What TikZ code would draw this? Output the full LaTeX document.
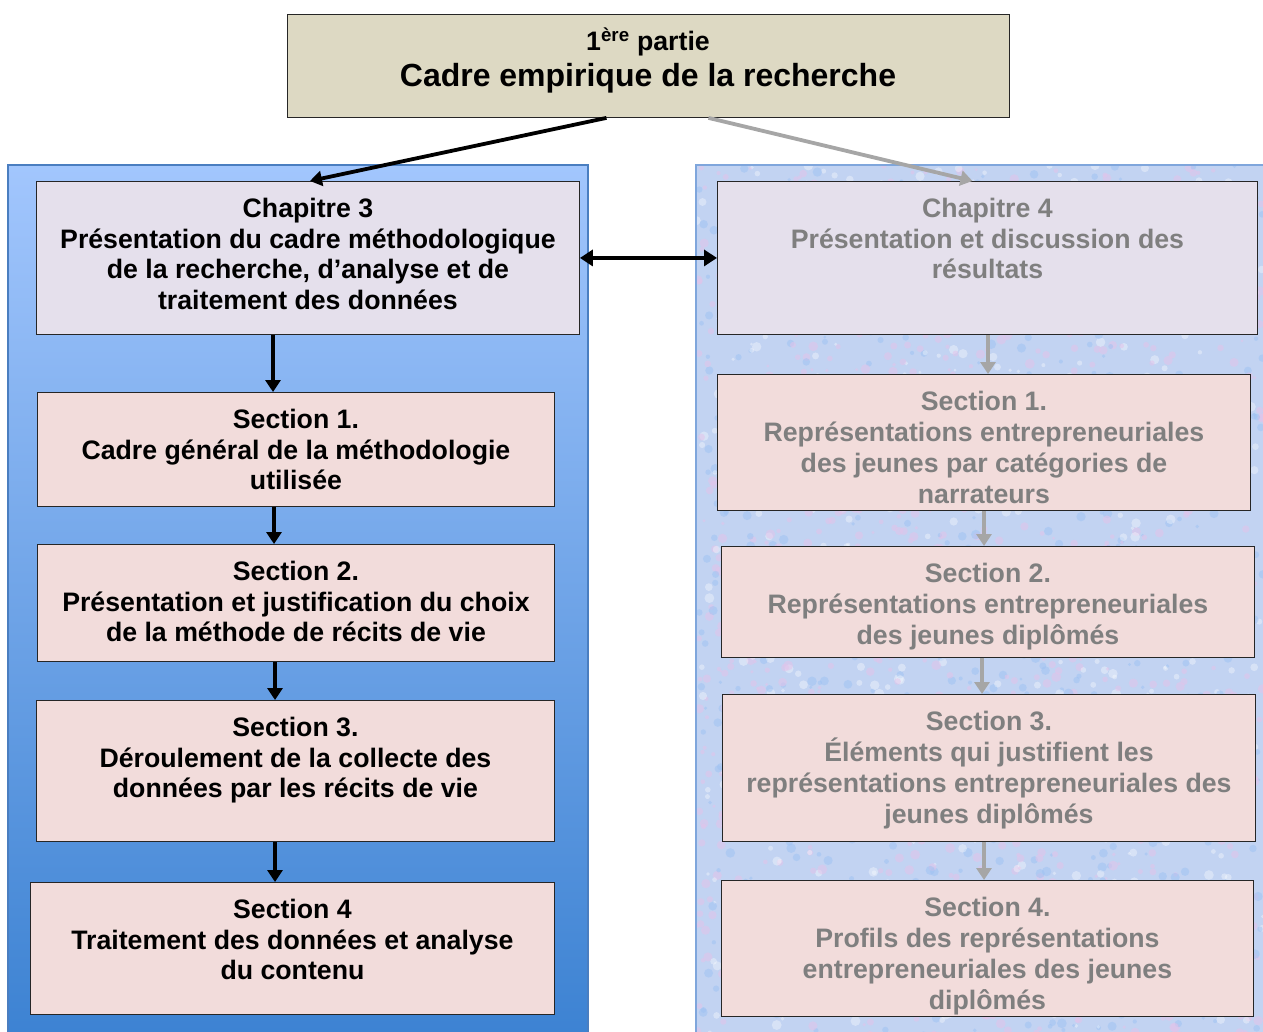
\documentclass[tikz,border=0pt]{standalone}
\usepackage{fontspec}
\setmainfont{Liberation Sans}
\usetikzlibrary{arrows.meta}
\definecolor{topfill}{HTML}{DDD9C3}
\definecolor{chfill}{HTML}{E5E0EC}
\definecolor{secfill}{HTML}{F2DCDB}
\definecolor{lptop}{HTML}{A2C6FD}
\definecolor{lpbot}{HTML}{3C82D2}
\definecolor{lpborder}{HTML}{4A7EC0}
\definecolor{rpfill}{HTML}{C2D3F2}
\definecolor{rpborder}{HTML}{7FA6DC}
\definecolor{greytext}{HTML}{7F7F7F}
\definecolor{greyarrow}{HTML}{A6A6A6}
\definecolor{speckpink}{HTML}{E2C4EA}
\definecolor{speckblue}{HTML}{9EC2F2}
\newcommand\myboxfont{\fontsize{26.7}{30.7}\selectfont\bfseries\lineskiplimit=-50pt\relax}
\tikzset{
  boxstyle/.style={draw=black!85, line width=0.9pt, inner sep=0pt, anchor=north west},
  txtstyle/.style={inner sep=0pt, anchor=north, align=center, font=\myboxfont},
  greytxt/.style={txtstyle, text=greytext},
  blackarrow/.style={line width=3.8pt, -{Triangle[length=12pt,width=15pt]}},
  greyarr/.style={line width=3.8pt, draw=greyarrow, -{Triangle[length=12pt,width=15pt]}},
  vblack/.style={line width=3.5pt, -{Triangle[length=12pt,width=15pt]}},
  vgrey/.style={line width=3.5pt, draw=greyarrow, -{Triangle[length=12pt,width=15pt]}},
}
\begin{document}
\begin{tikzpicture}[x=1pt,y=-1pt]
\useasboundingbox (0,0) rectangle (1263,1032);
\fill[white] (0,0) rectangle (1263,1032);
% panels
\shade[top color=lptop, bottom color=lpbot] (8,165) rectangle (588,1040);
\draw[lpborder, line width=1.5pt] (8,1040) -- (8,165) -- (588,165) -- (588,1040);
\fill[rpfill] (696,165) rectangle (1263,1040);
\begin{scope}
\clip (696,165) rectangle (1263,1040);
\pgfmathsetseed{11}
\foreach \i in {1,...,2600}{
  \pgfmathsetmacro{\px}{696+567*rnd}
  \pgfmathsetmacro{\py}{165+870*rnd}
  \pgfmathsetmacro{\pr}{1.5+3.5*rnd}
  \pgfmathsetmacro{\pc}{rnd}
  \ifdim\pc pt<0.45pt
    \fill[speckpink, opacity=0.55] (\px,\py) circle[radius=\pr pt];
  \else\ifdim\pc pt<0.75pt
    \fill[speckblue, opacity=0.5] (\px,\py) circle[radius=\pr pt];
  \else
    \fill[white, opacity=0.35] (\px,\py) circle[radius=\pr pt];
  \fi\fi
}
\end{scope}
\draw[rpborder, line width=1.5pt] (696,1040) -- (696,165) -- (1263,165);

% top box
\node[boxstyle, fill=topfill, minimum width=722pt, minimum height=103pt] (top) at (287,14) {};
\node[inner sep=0pt, anchor=base, font=\fontsize{26.7}{31}\selectfont\bfseries] (toptxt1) at (648,50.5) {1\textsuperscript{ère} partie};
\node[inner sep=0pt, anchor=base, font=\fontsize{32}{37}\selectfont\bfseries] (toptxt2) at (648,86.5) {Cadre empirique de la recherche};

% left column
\node[boxstyle, fill=chfill, minimum width=543pt, minimum height=153pt] (ch3) at (36,181) {};
\node[boxstyle, fill=secfill, minimum width=517pt, minimum height=114pt] (s1l) at (37,392) {};
\node[boxstyle, fill=secfill, minimum width=517pt, minimum height=117pt] (s2l) at (37,544) {};
\node[boxstyle, fill=secfill, minimum width=518pt, minimum height=141pt] (s3l) at (36,700) {};
\node[boxstyle, fill=secfill, minimum width=524pt, minimum height=132pt] (s4l) at (30,882) {};

\node[txtstyle] (ch3t) at ([yshift=-14.8pt]ch3.north) {\strut Chapitre 3\\Présentation du cadre méthodologique\\de la recherche, d’analyse et de\\traitement des données};
\node[txtstyle] (s1lt) at ([yshift=-14.8pt]s1l.north) {\strut Section 1.\\Cadre général de la méthodologie\\utilisée};
\node[txtstyle] (s2lt) at ([yshift=-14.8pt]s2l.north) {\strut Section 2.\\Présentation et justification du choix\\de la méthode de récits de vie};
\node[txtstyle] (s3lt) at ([yshift=-14.8pt]s3l.north) {\strut Section 3.\\Déroulement de la collecte des\\données par les récits de vie};
\node[txtstyle] (s4lt) at ([yshift=-14.8pt]s4l.north) {\strut Section 4\\Traitement des données et analyse\\du contenu};

% right column
\node[boxstyle, fill=chfill, minimum width=540pt, minimum height=153pt] (ch4) at (717,181) {};
\node[boxstyle, fill=secfill, minimum width=533pt, minimum height=136pt] (s1r) at (717,374) {};
\node[boxstyle, fill=secfill, minimum width=533pt, minimum height=111pt] (s2r) at (721,546) {};
\node[boxstyle, fill=secfill, minimum width=533pt, minimum height=147pt] (s3r) at (722,694) {};
\node[boxstyle, fill=secfill, minimum width=532pt, minimum height=136pt] (s4r) at (721,880) {};

\node[greytxt] (ch4t) at ([yshift=-14.8pt]ch4.north) {\strut Chapitre 4\\Présentation et discussion des\\résultats};
\node[greytxt] (s1rt) at ([yshift=-15.3pt]s1r.north) {\strut Section 1.\\Représentations entrepreneuriales\\des jeunes par catégories de\\narrateurs};
\node[greytxt] (s2rt) at ([yshift=-15.3pt]s2r.north) {\strut Section 2.\\Représentations entrepreneuriales\\des jeunes diplômés};
\node[greytxt] (s3rt) at ([yshift=-15.3pt]s3r.north) {\strut Section 3.\\Éléments qui justifient les\\représentations entrepreneuriales des\\jeunes diplômés};
\node[greytxt] (s4rt) at ([yshift=-15.3pt]s4r.north) {\strut Section 4.\\Profils des représentations\\entrepreneuriales des jeunes\\diplômés};

% connectors
\draw[blackarrow] ([xshift=-42pt]top.south) -- ([xshift=2pt]ch3.north);
\draw[greyarr] ([xshift=60pt]top.south) -- ([xshift=-15pt]ch4.north);
\draw[line width=3.8pt, {Triangle[length=13pt,width=16pt]}-{Triangle[length=13pt,width=16pt]}] (ch3.east) -- (ch4.west);

\draw[vblack] (ch3.south -| 273,0) -- (s1l.north -| 273,0);
\draw[vblack] (s1l.south -| 274,0) -- (s2l.north -| 274,0);
\draw[vblack] (s2l.south -| 275,0) -- (s3l.north -| 275,0);
\draw[vblack] (s3l.south -| 275,0) -- (s4l.north -| 275,0);

\draw[vgrey] (ch4.south -| 988,0) -- (s1r.north -| 988,0);
\draw[vgrey] (s1r.south -| 984,0) -- (s2r.north -| 984,0);
\draw[vgrey] (s2r.south -| 982,0) -- (s3r.north -| 982,0);
\draw[vgrey] (s3r.south -| 984,0) -- (s4r.north -| 984,0);
\end{tikzpicture}
\end{document}
